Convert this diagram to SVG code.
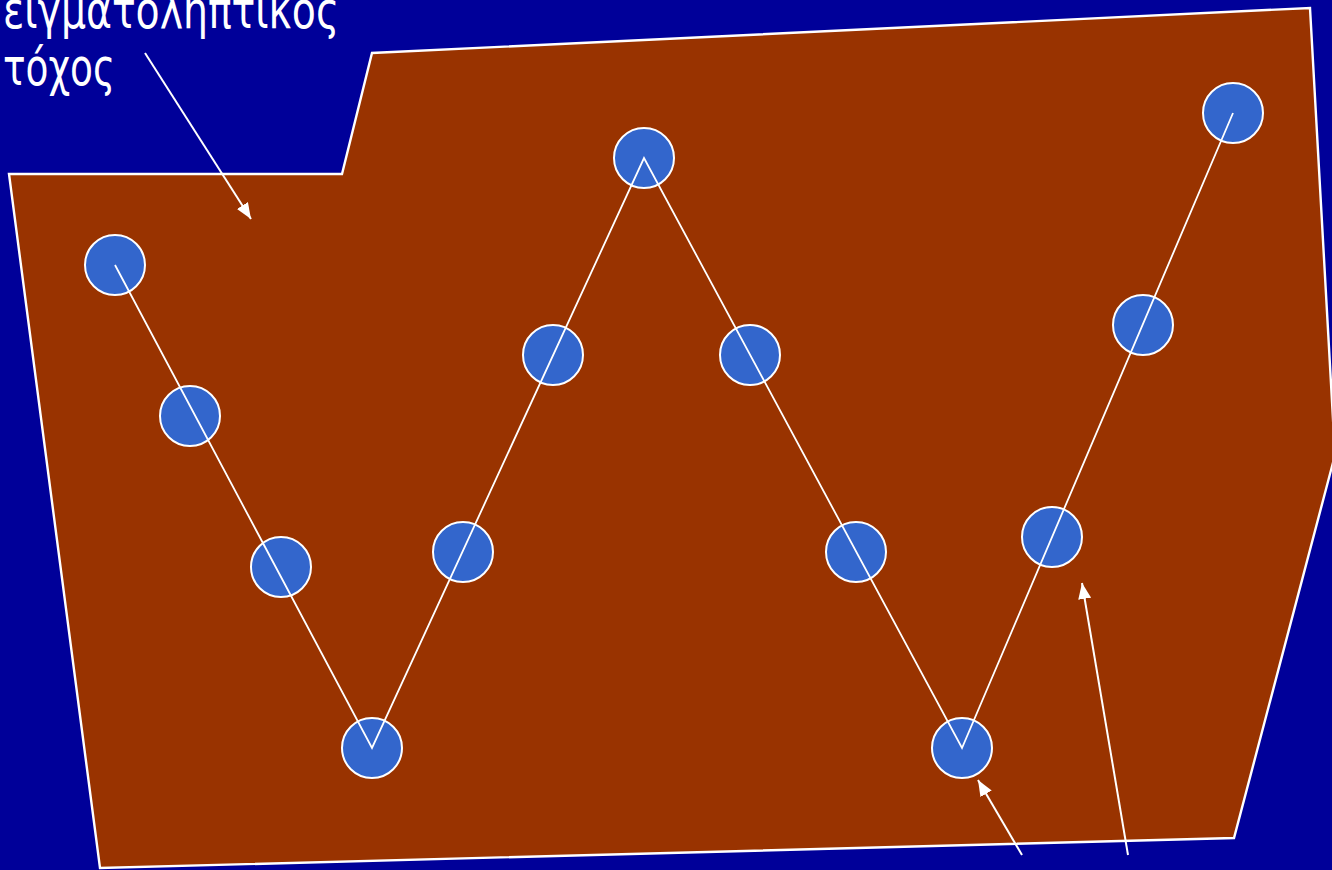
<svg xmlns="http://www.w3.org/2000/svg" width="1332" height="870" viewBox="0 0 1332 870">
<defs>
<style>
.bg{fill:#000099}
.area{fill:#993300;stroke:#ffffff;stroke-width:2.4}
.pt{fill:#3366cc;stroke:#ffffff;stroke-width:2}
.path{fill:none;stroke:#ffffff;stroke-width:1.8}
.arr{fill:none;stroke:#ffffff;stroke-width:2}
.lbl{fill:#ffffff;font-family:"DejaVu Sans Condensed","DejaVu Sans",sans-serif;font-size:51px}
</style>
<marker id="ah" viewBox="0 0 16 13" refX="16" refY="6.5" markerWidth="16" markerHeight="13" markerUnits="userSpaceOnUse" orient="auto">
<path d="M0,0 L16,6.5 L0,13 z" fill="#ffffff"/>
</marker>
</defs>
<rect class="bg" x="0" y="0" width="1332" height="870"/>
<g id="area">
<polygon class="area" points="9,174 342,174 372,53 1310,8 1335,455 1234,838 100,868"/>
</g>
<g id="label">
<text class="lbl" x="3" y="28" textLength="336" lengthAdjust="spacingAndGlyphs">ειγματοληπτικός</text>
<text class="lbl" x="3" y="85" textLength="112" lengthAdjust="spacingAndGlyphs">τόχος</text>
</g>
<g id="points">
<circle id="p1" class="pt" cx="115" cy="265" r="30"/>
<circle id="p2" class="pt" cx="190" cy="416" r="30"/>
<circle id="p3" class="pt" cx="281" cy="567" r="30"/>
<circle id="p4" class="pt" cx="372" cy="748" r="30"/>
<circle id="p5" class="pt" cx="463" cy="552" r="30"/>
<circle id="p6" class="pt" cx="553" cy="355" r="30"/>
<circle id="p7" class="pt" cx="644" cy="158" r="30"/>
<circle id="p8" class="pt" cx="750" cy="355" r="30"/>
<circle id="p9" class="pt" cx="856" cy="552" r="30"/>
<circle id="p10" class="pt" cx="962" cy="748" r="30"/>
<circle id="p11" class="pt" cx="1052" cy="537" r="30"/>
<circle id="p12" class="pt" cx="1143" cy="325" r="30"/>
<circle id="p13" class="pt" cx="1233" cy="113" r="30"/>
</g>
<g id="connectors">
<polyline class="path" points="115,265 372,748 644,158 962,748 1233,113"/>
<line class="arr" x1="145" y1="53" x2="251" y2="219" marker-end="url(#ah)"/>
<line class="arr" x1="1022" y1="855" x2="978" y2="780" marker-end="url(#ah)"/>
<line class="arr" x1="1128" y1="855" x2="1082" y2="583" marker-end="url(#ah)"/>
</g>
</svg>
